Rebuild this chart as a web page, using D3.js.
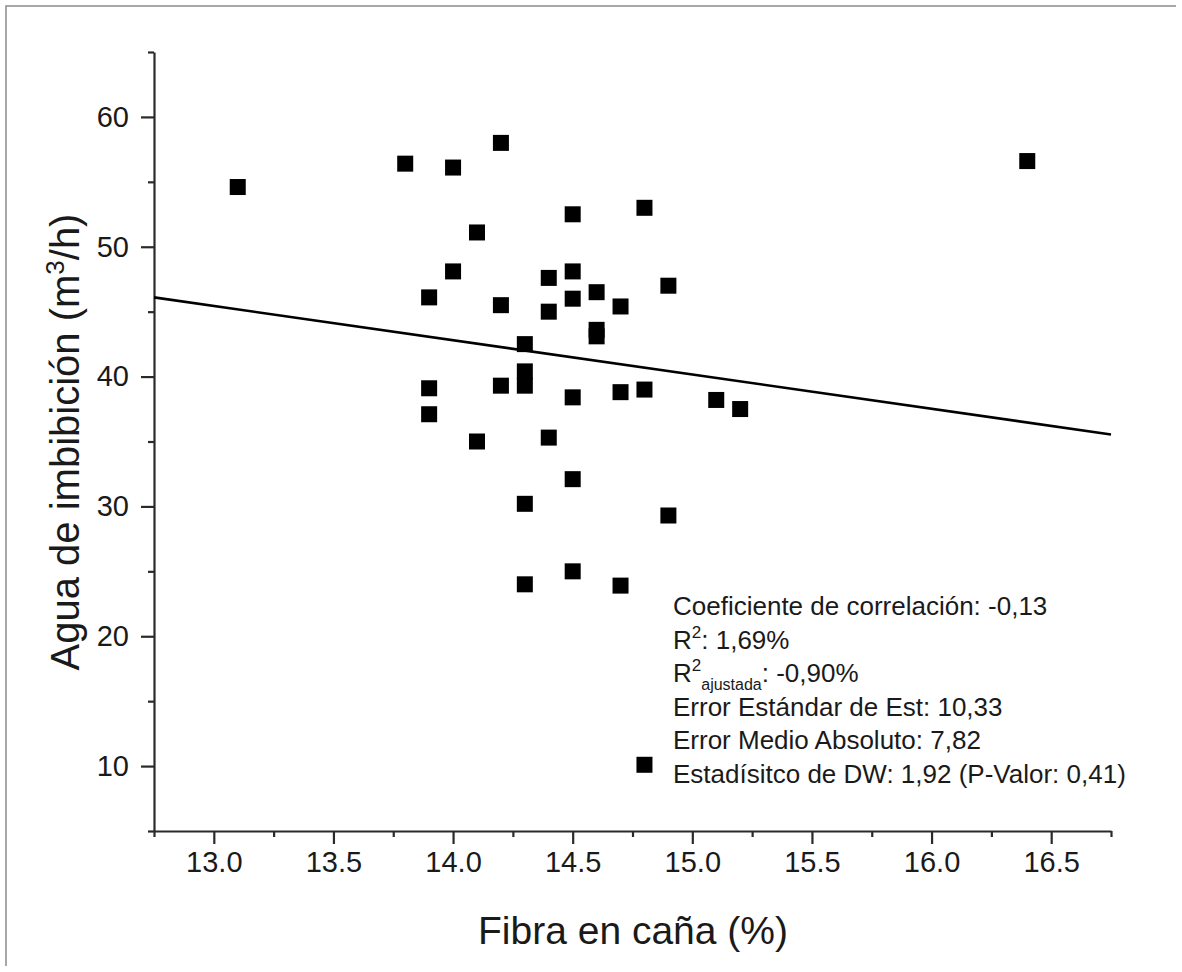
<!DOCTYPE html>
<html><head><meta charset="utf-8">
<script src="https://cdn.jsdelivr.net/npm/d3@7"></script>
<style>
body{margin:0;background:#fff}
svg{display:block}
text{font-family:"Liberation Sans", Arial, Helvetica, sans-serif;fill:#1a1a1a}
</style>
</head><body>
<svg id="chart" width="1182" height="972"></svg>
<script>
// ---- data ----
const fibra = [13.1, 13.8, 14.0, 14.2, 14.1, 14.5, 14.0, 13.9, 14.2, 14.4,
               14.5, 14.4, 14.5, 14.6, 14.6, 14.6, 14.7, 14.3, 14.3, 14.3,
               13.9, 14.2, 14.5, 14.7, 14.8, 13.9, 14.1, 14.4, 14.5, 14.3,
               14.9, 14.5, 14.3, 14.7, 14.9, 14.8, 15.1, 15.2, 16.4, 14.8];
const agua  = [54.6, 56.4, 56.1, 58.0, 51.1, 52.5, 48.1, 46.1, 45.5, 47.6,
               48.1, 45.0, 46.0, 46.5, 43.6, 43.1, 45.4, 42.5, 40.4, 39.3,
               39.1, 39.3, 38.4, 38.8, 39.0, 37.1, 35.0, 35.3, 32.1, 30.2,
               29.3, 25.0, 24.0, 23.9, 47.0, 53.0, 38.2, 37.5, 56.6, 10.1];
const xTickValues = [13.0, 13.5, 14.0, 14.5, 15.0, 15.5, 16.0, 16.5];
const xMinorTicks = [12.75, 13.25, 13.75, 14.25, 14.75, 15.25, 15.75, 16.25, 16.75];
const yTickValues = [10, 20, 30, 40, 50, 60];
const yMinorTicks = [5, 15, 25, 35, 45, 55, 65];
const xDomain = [12.75, 16.75];
const yDomain = [5, 65];
const fitSlope = -2.64;
const fitIntercept = 79.76;
const xTitle = "Fibra en caña (%)";
const statLines = [
  [{t:"Coeficiente de correlación: -0,13"}],
  [{t:"R"},{t:"2",k:"sup"},{t:": 1,69%"}],
  [{t:"R"},{t:"2",k:"sup"},{t:"ajustada",k:"sub"},{t:": -0,90%"}],
  [{t:"Error Estándar de Est: 10,33"}],
  [{t:"Error Medio Absoluto: 7,82"}],
  [{t:"Estadísitco de DW: 1,92 (P-Valor: 0,41)"}]
];

// ---- drawing ----
const svg = d3.select("#chart");
const x = d3.scaleLinear().domain(xDomain).range([154, 1111]);
const y = d3.scaleLinear().domain(yDomain).range([831, 52]);
const axisColor = "#2a2a2a";

// outer frame (top & left visible in reference)
svg.append("path")
  .attr("d", "M6,966 L6,6 L1176,6")
  .attr("fill","none").attr("stroke","#8a8a8a").attr("stroke-width",1.5);

function styleAxis(g){
  g.selectAll("path.domain").attr("stroke",axisColor).attr("stroke-width",2.2);
  g.selectAll(".tick line").attr("stroke",axisColor).attr("stroke-width",2.2);
}

// x axis
const gx = svg.append("g").attr("transform",`translate(0,${y(yDomain[0])})`)
  .call(d3.axisBottom(x).tickValues(xTickValues).tickSize(13).tickSizeOuter(0)
        .tickFormat(d3.format(".1f")).tickPadding(7));
styleAxis(gx);
gx.selectAll(".tick text").attr("font-size",29).attr("fill","#1a1a1a");
const gxm = svg.append("g").attr("transform",`translate(0,${y(yDomain[0])})`)
  .call(d3.axisBottom(x).tickValues(xMinorTicks).tickSize(6).tickSizeOuter(0).tickFormat(""));
styleAxis(gxm);
gxm.select("path.domain").remove();

// y axis
const gy = svg.append("g").attr("transform",`translate(${x(xDomain[0])},0)`)
  .call(d3.axisLeft(y).tickValues(yTickValues).tickSize(13).tickSizeOuter(0).tickPadding(12));
styleAxis(gy);
gy.selectAll(".tick text").attr("font-size",29).attr("fill","#1a1a1a");
const gym = svg.append("g").attr("transform",`translate(${x(xDomain[0])},0)`)
  .call(d3.axisLeft(y).tickValues(yMinorTicks).tickSize(6).tickSizeOuter(0).tickFormat(""));
styleAxis(gym);
gym.select("path.domain").remove();

// regression line
const fitLine = xDomain.map(v => [v, fitIntercept + fitSlope*v]);
svg.append("path")
  .attr("d", d3.line().x(d=>x(d[0])).y(d=>y(d[1]))(fitLine))
  .attr("fill","none").attr("stroke","#000").attr("stroke-width",2.6);

// points
const sz = 16;
svg.append("g").selectAll("rect").data(fibra.map((f,i)=>[f,agua[i]])).join("rect")
  .attr("x", d=>x(d[0])-sz/2).attr("y", d=>y(d[1])-sz/2)
  .attr("width",sz).attr("height",sz).attr("fill","#000");

// axis titles
svg.append("text").attr("x",633).attr("y",944).attr("text-anchor","middle")
  .attr("font-size",39).text(xTitle);
const yt = svg.append("text").attr("transform","translate(79,442) rotate(-90)")
  .attr("text-anchor","middle").attr("font-size",40);
yt.append("tspan").text("Agua de imbibición (m");
yt.append("tspan").attr("font-size",26).attr("dy",-15).text("3");
yt.append("tspan").attr("dy",15).text("/h)");

// statistics text
const st = svg.append("g");
statLines.forEach((segs,i)=>{
  const t = st.append("text").attr("x",673).attr("y",615+i*33.6).attr("font-size",26);
  let cur = 0;
  segs.forEach(s=>{
    let shift = 0, fs = 26;
    if(s.k==="sup"){shift=-11; fs=17;}
    if(s.k==="sub"){shift=8; fs=16;}
    t.append("tspan").attr("dy", shift - cur).attr("font-size",fs).text(s.t);
    cur = shift;
  });
});
</script>
</body></html>
